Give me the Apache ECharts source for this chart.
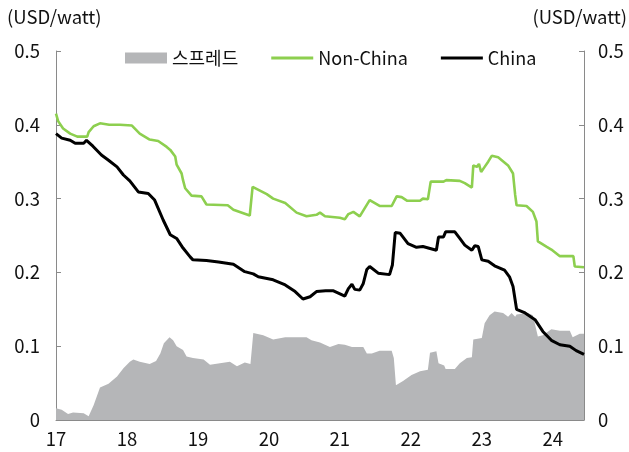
<!DOCTYPE html>
<html>
<head>
<meta charset="utf-8">
<script src="https://cdn.jsdelivr.net/npm/echarts@6/dist/echarts.min.js"></script>
<style>
  html, body { margin: 0; padding: 0; background: #fff; }
  #chart { width: 629px; height: 452px; }
</style>
</head>
<body>
<div id="chart"></div>
<script>
// Module price, USD/watt; x = decimal year (17 = 2017)
const seriesNames = ['스프레드', 'Non-China', 'China'];
const yearLabels = ['17', '18', '19', '20', '21', '22', '23', '24'];
const unitLabel = '(USD/watt)';

const nonChina = [
  [17.00,0.415],[17.03,0.405],[17.10,0.395],[17.20,0.388],[17.30,0.384],[17.44,0.384],[17.46,0.390],
  [17.53,0.398],[17.62,0.402],[17.75,0.400],[17.90,0.400],[18.07,0.399],[18.18,0.388],[18.32,0.380],
  [18.44,0.378],[18.56,0.370],[18.61,0.366],[18.68,0.357],[18.70,0.346],[18.77,0.334],[18.79,0.325],
  [18.82,0.314],[18.91,0.304],[19.05,0.303],[19.12,0.292],[19.42,0.291],[19.50,0.285],[19.73,0.277],
  [19.77,0.316],[19.97,0.306],[20.06,0.300],[20.23,0.294],[20.39,0.281],[20.53,0.276],[20.67,0.278],
  [20.72,0.281],[20.79,0.276],[21.00,0.274],[21.07,0.272],[21.12,0.279],[21.19,0.282],[21.28,0.276],
  [21.42,0.298],[21.56,0.290],[21.73,0.290],[21.80,0.303],[21.87,0.302],[21.95,0.297],[22.13,0.297],
  [22.17,0.300],[22.24,0.299],[22.28,0.323],[22.46,0.323],[22.50,0.325],[22.69,0.324],[22.76,0.321],
  [22.86,0.315],[22.88,0.345],[22.93,0.343],[22.96,0.347],[22.99,0.336],[23.04,0.343],[23.09,0.350],
  [23.14,0.358],[23.23,0.356],[23.37,0.345],[23.44,0.334],[23.47,0.305],[23.49,0.291],[23.63,0.290],
  [23.72,0.282],[23.77,0.269],[23.79,0.242],[23.91,0.235],[23.98,0.231],[24.10,0.222],[24.29,0.222],
  [24.31,0.208],[24.44,0.207]
];

const china = [
  [17.00,0.388],[17.08,0.382],[17.20,0.379],[17.27,0.375],[17.39,0.375],[17.43,0.379],[17.52,0.371],
  [17.64,0.359],[17.74,0.352],[17.86,0.343],[17.95,0.332],[18.04,0.324],[18.16,0.309],[18.30,0.307],
  [18.39,0.298],[18.51,0.271],[18.61,0.251],[18.70,0.246],[18.79,0.233],[18.89,0.221],[18.93,0.217],
  [19.12,0.216],[19.29,0.214],[19.50,0.211],[19.66,0.201],[19.78,0.198],[19.85,0.194],[20.06,0.190],
  [20.23,0.183],[20.37,0.174],[20.48,0.164],[20.58,0.167],[20.67,0.174],[20.80,0.175],[20.91,0.175],
  [21.07,0.168],[21.12,0.178],[21.17,0.184],[21.21,0.177],[21.28,0.176],[21.33,0.185],[21.38,0.204],
  [21.42,0.208],[21.54,0.199],[21.70,0.197],[21.74,0.210],[21.78,0.254],[21.85,0.253],[21.96,0.239],
  [22.08,0.234],[22.17,0.235],[22.36,0.230],[22.39,0.248],[22.46,0.248],[22.49,0.255],[22.62,0.255],
  [22.69,0.246],[22.76,0.237],[22.86,0.230],[22.90,0.236],[22.95,0.235],[23.00,0.217],[23.09,0.215],
  [23.18,0.209],[23.32,0.203],[23.39,0.194],[23.44,0.181],[23.49,0.150],[23.61,0.145],[23.75,0.136],
  [23.86,0.120],[23.98,0.108],[24.10,0.102],[24.24,0.100],[24.33,0.094],[24.44,0.089]
];

const spread = [
  [17.00,0.016],[17.08,0.014],[17.17,0.008],[17.24,0.010],[17.39,0.009],[17.46,0.005],[17.53,0.020],
  [17.62,0.044],[17.74,0.049],[17.86,0.059],[17.95,0.070],[18.04,0.079],[18.09,0.082],[18.18,0.079],
  [18.32,0.076],[18.41,0.080],[18.47,0.090],[18.52,0.104],[18.60,0.112],[18.65,0.108],[18.70,0.100],
  [18.79,0.095],[18.84,0.086],[18.93,0.084],[19.08,0.082],[19.17,0.075],[19.31,0.077],[19.45,0.079],
  [19.55,0.073],[19.66,0.078],[19.74,0.076],[19.78,0.118],[19.92,0.115],[20.06,0.109],[20.23,0.112],
  [20.53,0.112],[20.60,0.108],[20.72,0.105],[20.86,0.099],[20.98,0.103],[21.07,0.102],[21.17,0.099],
  [21.33,0.099],[21.38,0.090],[21.45,0.090],[21.56,0.094],[21.73,0.094],[21.76,0.084],[21.79,0.047],
  [21.89,0.053],[22.01,0.061],[22.13,0.066],[22.24,0.068],[22.27,0.091],[22.36,0.093],[22.39,0.077],
  [22.47,0.074],[22.49,0.069],[22.62,0.069],[22.69,0.077],[22.79,0.084],[22.86,0.085],[22.88,0.109],
  [23.00,0.111],[23.04,0.131],[23.11,0.142],[23.18,0.147],[23.30,0.145],[23.37,0.140],[23.42,0.145],
  [23.47,0.140],[23.49,0.143],[23.65,0.145],[23.72,0.142],[23.79,0.113],[23.86,0.115],[23.98,0.123],
  [24.10,0.121],[24.24,0.121],[24.28,0.112],[24.38,0.117],[24.44,0.117]
];

const FONT = "'Noto Sans CJK KR', 'Noto Sans', sans-serif";
const FS = 18.5;
const AXIS_GRAY = '#8a8a8a';
const TEXT = '#111';
const GREEN = '#8dcf4f';
const GRAY_FILL = '#b5b6b8';
// thin bar used as the legend marker for the two line series
const LINE_ICON = 'path://M0,0 L14,0 L14,1 L0,1 Z';

function yAxisDef(pos, margin) {
  return {
    type: 'value',
    position: pos,
    min: 0, max: 0.5, interval: 0.1,
    axisLine: { show: true, lineStyle: { color: AXIS_GRAY, width: 1 } },
    axisTick: { show: true, inside: true, length: 5, lineStyle: { color: AXIS_GRAY } },
    splitLine: { show: false },
    axisLabel: {
      margin: margin, fontSize: FS, color: TEXT, fontFamily: FONT,
      formatter: v => (v === 0 ? '0' : v.toFixed(1))
    }
  };
}

const chart = echarts.init(document.getElementById('chart'), null, { renderer: 'canvas' });
chart.setOption({
  animation: false,
  backgroundColor: '#fff',
  grid: { left: 56, right: 45, top: 51, bottom: 32, containLabel: false },
  legend: {
    left: 120, top: 44,
    itemWidth: 42, itemHeight: 11, itemGap: 33,
    symbolKeepAspect: true,
    textStyle: { fontSize: 18, color: TEXT, fontFamily: FONT },
    data: [
      { name: seriesNames[0], icon: 'rect', itemStyle: { color: GRAY_FILL } },
      { name: seriesNames[1], icon: LINE_ICON, itemStyle: { color: GREEN } },
      { name: seriesNames[2], icon: LINE_ICON, itemStyle: { color: '#000' } }
    ]
  },
  graphic: [
    { type: 'text', left: 7, top: 8, style: { text: unitLabel, fontSize: FS, fill: TEXT, fontFamily: FONT } },
    { type: 'text', right: 2, top: 8, style: { text: unitLabel, fontSize: FS, fill: TEXT, fontFamily: FONT } }
  ],
  xAxis: {
    type: 'value',
    min: 17, max: 24.44, interval: 1,
    axisLine: { show: true, onZero: false, lineStyle: { color: AXIS_GRAY, width: 1 } },
    axisTick: { show: true, inside: true, length: 5, lineStyle: { color: AXIS_GRAY } },
    splitLine: { show: false },
    axisLabel: {
      margin: 10, fontSize: FS, color: TEXT, fontFamily: FONT, showMaxLabel: false,
      formatter: v => {
        const i = Math.round(v) - 17;
        return Math.abs(v - Math.round(v)) < 1e-6 && yearLabels[i] ? yearLabels[i] : '';
      }
    }
  },
  yAxis: [yAxisDef('left', 16), yAxisDef('right', 14)],
  series: [
    {
      name: seriesNames[0], type: 'line', data: spread, yAxisIndex: 0,
      symbol: 'none', lineStyle: { width: 0 },
      itemStyle: { color: GRAY_FILL },
      areaStyle: { color: GRAY_FILL, opacity: 1 },
      z: 1
    },
    {
      name: seriesNames[1], type: 'line', data: nonChina, yAxisIndex: 0,
      symbol: 'none', lineStyle: { width: 2.6, color: GREEN },
      itemStyle: { color: GREEN }, z: 3
    },
    {
      name: seriesNames[2], type: 'line', data: china, yAxisIndex: 0,
      symbol: 'none', lineStyle: { width: 3, color: '#000' },
      itemStyle: { color: '#000' }, z: 4
    }
  ]
});
</script>
</body>
</html>
